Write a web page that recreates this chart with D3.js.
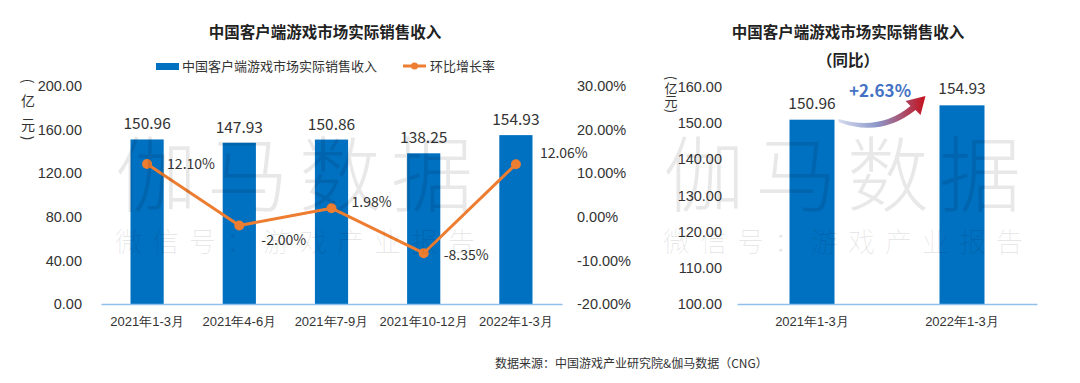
<!DOCTYPE html>
<html>
<head>
<meta charset="utf-8">
<script src="https://cdn.jsdelivr.net/npm/d3@7"></script>
<style>
  body { margin: 0; background: #fff; }
  svg { display: block; font-family: "Noto Sans CJK SC", "Noto Sans", sans-serif; }
</style>
</head>
<body>
<svg id="chart"></svg>
<script>
// left chart data
const quarters = ["2021年1-3月", "2021年4-6月", "2021年7-9月", "2021年10-12月", "2022年1-3月"];
const revenue = [150.96, 147.93, 150.86, 138.25, 154.93];
const qoqRate = [12.10, -2.00, 1.98, -8.35, 12.06];
const revenueTicks = [0, 40, 80, 120, 160, 200];
const rateTicks = [-20, -10, 0, 10, 20, 30];

// right chart data
const yoyYears = ["2021年1-3月", "2022年1-3月"];
const yoyRevenue = [150.96, 154.93];
const yoyTicks = [100, 110, 120, 130, 140, 150, 160];
const yoyGrowth = "+2.63%";

const title = "中国客户端游戏市场实际销售收入";
const unitChars = ["(", "亿", "元", ")"];
const source = "数据来源：中国游戏产业研究院&伽马数据（CNG）";

const blue = "#0070C0", orange = "#ED7D31", axisColor = "#8FC0EA", textColor = "#333";

const svg = d3.select("#chart").attr("width", 1080).attr("height", 383);
svg.append("rect").attr("width", 1080).attr("height", 383).attr("fill", "#fff");

const defs = svg.append("defs");
const grad = defs.append("linearGradient").attr("id", "arrowGrad")
    .attr("x1", "0%").attr("x2", "100%").attr("y1", "0%").attr("y2", "0%");
grad.append("stop").attr("offset", "0%").attr("stop-color", "#d5dcef");
grad.append("stop").attr("offset", "45%").attr("stop-color", "#8c96c8");
grad.append("stop").attr("offset", "100%").attr("stop-color", "#c4101c");

// vertical unit label, one char per line, brackets turned sideways
function unitLabel(g, xc, ys, size) {
  unitChars.forEach((c, i) => {
    const t = g.append("text")
        .attr("x", xc).attr("y", ys[i]).attr("dy", "0.35em")
        .attr("text-anchor", "middle")
        .attr("font-size", size).attr("fill", textColor)
        .text(c);
    if (c === "(" || c === ")") t.attr("transform", `rotate(90,${xc},${ys[i]})`);
  });
}

// ---------- left chart ----------
const plotTop = 86, plotBottom = 304;
const x = d3.scaleBand().domain(quarters).range([101, 562]);
const y = d3.scaleLinear().domain([0, 200]).range([plotBottom, plotTop]);
const y2 = d3.scaleLinear().domain([-20, 30]).range([plotBottom, plotTop]);
const barW = x.bandwidth() * 0.36;

const left = svg.append("g");

left.append("text")
    .attr("x", 325).attr("y", 38)
    .attr("text-anchor", "middle")
    .attr("font-size", 15.5).attr("font-weight", "bold").attr("fill", "#222")
    .text(title);

// legend
const leg = left.append("g").attr("font-size", 13).attr("fill", textColor);
leg.append("rect").attr("x", 156).attr("y", 63).attr("width", 23).attr("height", 7).attr("fill", blue);
leg.append("text").attr("x", 182).attr("y", 66).attr("dy", "0.35em").text(title);
leg.append("line").attr("x1", 403).attr("x2", 426).attr("y1", 66).attr("y2", 66)
    .attr("stroke", orange).attr("stroke-width", 3);
leg.append("circle").attr("cx", 414.5).attr("cy", 66).attr("r", 3.5).attr("fill", orange);
leg.append("text").attr("x", 430).attr("y", 66).attr("dy", "0.35em").text("环比增长率");

// axes
left.append("g")
    .attr("transform", "translate(90,0)")
    .call(d3.axisLeft(y).tickValues(revenueTicks).tickFormat(d3.format(".2f")).tickSize(0).tickPadding(8))
    .call(g => g.select(".domain").remove())
    .selectAll("text").attr("font-size", 14.5).attr("fill", textColor).attr("font-family", null);

left.append("g")
    .attr("transform", "translate(570,0)")
    .call(d3.axisRight(y2).tickValues(rateTicks).tickFormat(d => d.toFixed(2) + "%").tickSize(0).tickPadding(7))
    .call(g => g.select(".domain").remove())
    .selectAll("text").attr("font-size", 14.5).attr("fill", textColor).attr("font-family", null);

unitLabel(left, 28, [81, 101, 125, 138], 14);

// bars
left.selectAll(".bar").data(revenue).join("rect")
    .attr("class", "bar")
    .attr("x", (d, i) => x(quarters[i]) + x.bandwidth() / 2 - barW / 2)
    .attr("y", d => y(d))
    .attr("width", barW)
    .attr("height", d => y(0) - y(d))
    .attr("fill", blue);

left.append("g")
    .attr("transform", "translate(0," + plotBottom + ")")
    .call(d3.axisBottom(x).tickSize(0).tickPadding(13))
    .call(g => g.select(".domain").attr("stroke", axisColor).attr("stroke-width", 1.5))
    .selectAll("text").attr("font-size", 13).attr("fill", textColor).attr("font-family", null);

left.selectAll(".barLabel").data(revenue).join("text")
    .attr("x", (d, i) => x(quarters[i]) + x.bandwidth() / 2)
    .attr("y", d => y(d) - 10)
    .attr("text-anchor", "middle")
    .attr("font-size", 15.5).attr("fill", textColor)
    .text(d => d.toFixed(2));

// line
const cx = (d, i) => x(quarters[i]) + x.bandwidth() / 2;
const line = d3.line().x(cx).y(d => y2(d));
left.append("path").datum(qoqRate)
    .attr("fill", "none").attr("stroke", orange).attr("stroke-width", 3)
    .attr("stroke-linejoin", "round").attr("d", line);
left.selectAll(".dot").data(qoqRate).join("circle")
    .attr("cx", cx).attr("cy", d => y2(d)).attr("r", 5).attr("fill", orange);

const labelOffsets = [[20, 0], [22, 15], [20, -6], [20, 2], [24, -11]];
left.selectAll(".rateLabel").data(qoqRate).join("text")
    .attr("x", (d, i) => cx(d, i) + labelOffsets[i][0])
    .attr("y", (d, i) => y2(d) + labelOffsets[i][1])
    .attr("dy", "0.35em")
    .attr("font-size", 14).attr("fill", textColor)
    .text(d => d.toFixed(2) + "%");

// ---------- right chart ----------
const rx = d3.scaleBand().domain(yoyYears).range([737, 1037]);
const ry = d3.scaleLinear().domain([100, 160]).range([plotBottom, 87]);
const rBarW = rx.bandwidth() * 0.3;
const right = svg.append("g");

right.append("text")
    .attr("x", 848).attr("y", 38)
    .attr("text-anchor", "middle")
    .attr("font-size", 15.5).attr("font-weight", "bold").attr("fill", "#222")
    .text(title);
right.append("text")
    .attr("x", 848).attr("y", 66)
    .attr("text-anchor", "middle")
    .attr("font-size", 15.5).attr("font-weight", "bold").attr("fill", "#222")
    .text("（同比）");

right.append("g")
    .attr("transform", "translate(730,0)")
    .call(d3.axisLeft(ry).tickValues(yoyTicks).tickFormat(d3.format(".2f")).tickSize(0).tickPadding(8))
    .call(g => g.select(".domain").remove())
    .selectAll("text").attr("font-size", 14.5).attr("fill", textColor).attr("font-family", null);

unitLabel(right, 671, [78, 88, 101, 111], 13);

right.selectAll(".bar").data(yoyRevenue).join("rect")
    .attr("x", (d, i) => rx(yoyYears[i]) + rx.bandwidth() / 2 - rBarW / 2)
    .attr("y", d => ry(d))
    .attr("width", rBarW)
    .attr("height", d => ry(100) - ry(d))
    .attr("fill", blue);

right.append("g")
    .attr("transform", "translate(0," + plotBottom + ")")
    .call(d3.axisBottom(rx).tickSize(0).tickPadding(13))
    .call(g => g.select(".domain").attr("stroke", axisColor).attr("stroke-width", 1.5))
    .selectAll("text").attr("font-size", 13).attr("fill", textColor).attr("font-family", null);

right.selectAll(".barLabel").data(yoyRevenue).join("text")
    .attr("x", (d, i) => rx(yoyYears[i]) + rx.bandwidth() / 2)
    .attr("y", d => ry(d) - 11)
    .attr("text-anchor", "middle")
    .attr("font-size", 15.5).attr("fill", textColor)
    .text(d => d.toFixed(2));

// growth arrow between the two bars
const ax0 = rx(yoyYears[0]) + rx.bandwidth() / 2 + rBarW / 2 + 4;
right.append("path")
    .attr("d", `M${ax0},119 Q${ax0 + 42},131 ${ax0 + 72},106 L${ax0 + 67},101 L${ax0 + 87},96 L${ax0 + 82},115 L${ax0 + 77},110 Q${ax0 + 42},138 ${ax0},122 Z`)
    .attr("fill", "url(#arrowGrad)");
right.append("text")
    .attr("x", 880).attr("y", 91).attr("dy", "0.35em")
    .attr("text-anchor", "middle")
    .attr("font-size", 17).attr("font-weight", "bold").attr("fill", "#4472C4")
    .text(yoyGrowth);

// source
svg.append("text")
    .attr("x", 495).attr("y", 364).attr("dy", "0.35em")
    .attr("font-size", 12).attr("fill", textColor)
    .text(source);

// watermarks
const marks = [115, 663];
marks.forEach(mx => {
  const wm = svg.append("g").attr("fill", "#000").attr("fill-opacity", 0.09).attr("font-weight", 300);
  wm.append("text").attr("x", mx).attr("y", 205)
      .attr("font-size", 82).attr("letter-spacing", 10)
      .text("伽马数据");
  wm.append("text").attr("x", mx).attr("y", 252)
      .attr("font-size", 27).attr("letter-spacing", 10)
      .text("微信号：游戏产业报告");
});
</script>
</body>
</html>
